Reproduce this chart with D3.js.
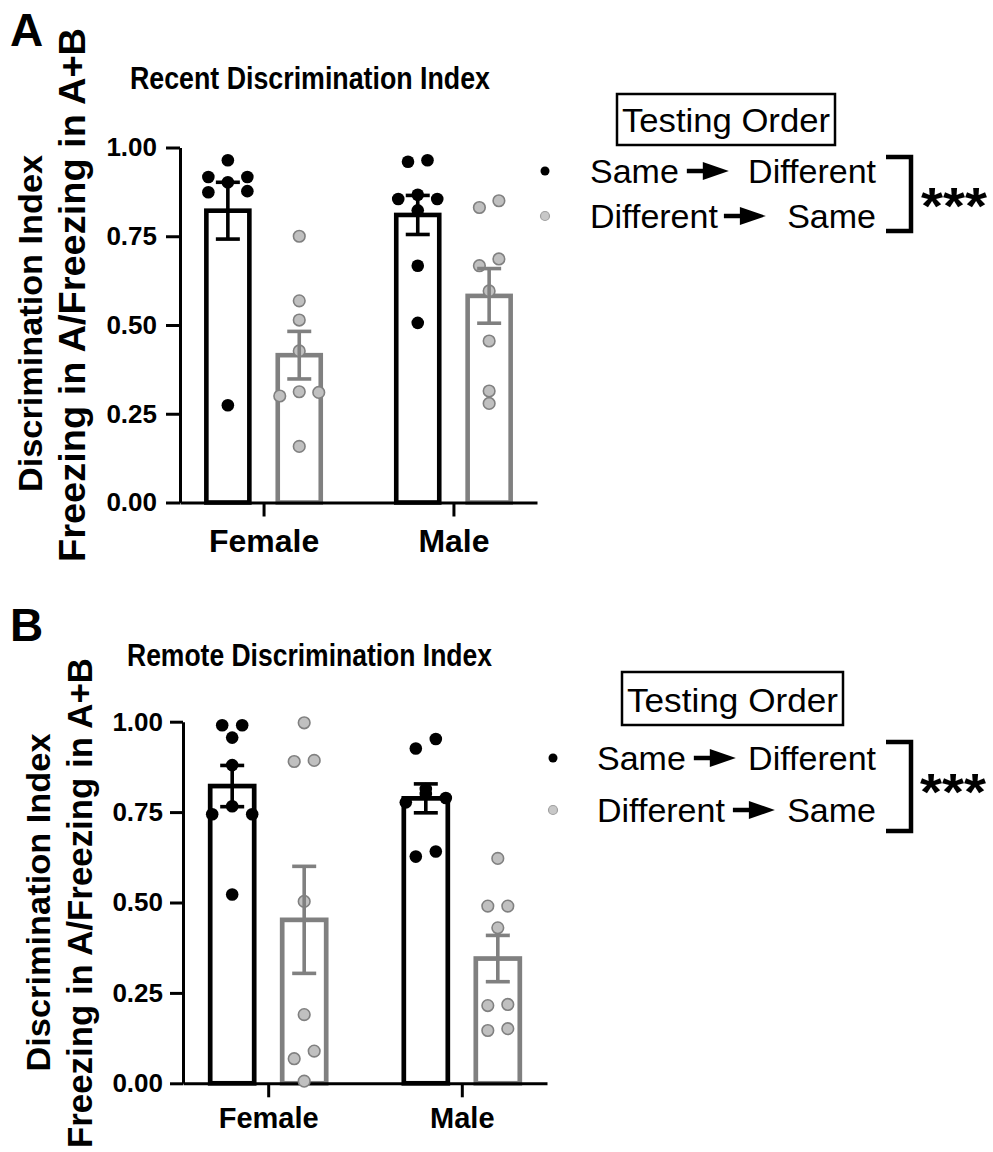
<!DOCTYPE html>
<html>
<head>
<meta charset="utf-8">
<script src="https://cdn.jsdelivr.net/npm/d3@7"></script>
<style>
  html, body { margin: 0; padding: 0; background: #fff; }
  svg text { font-family: "Liberation Sans", Arial, sans-serif; }
</style>
</head>
<body>
<svg id="chart" width="993" height="1152"></svg>
<script>
// ---------------- DATA ----------------
const categories = ["Female", "Male"];
const seriesKeys = ["sameDiff", "diffSame"];
const legendFirst = ["Same", "Different"];
const legendLast = ["Different", "Same"];
const yTicks = [0, 0.25, 0.5, 0.75, 1.0];
const yTitleLine1 = "Discrimination Index";
const yTitleLine2 = "Freezing in A/Freezing in A+B";
const legendTitle = "Testing Order";
const significance = "***";

// Panel A – Recent
const recentTitle = "Recent Discrimination Index";
const recentMeanSameDiff = [0.822, 0.810];
const recentSemSameDiff  = [0.080, 0.055];
const recentMeanDiffSame = [0.415, 0.582];
const recentSemDiffSame  = [0.067, 0.077];
const recentFemaleSameDiff = [0.964, 0.917, 0.917, 0.902, 0.874, 0.877, 0.274];
const recentFemaleSameDiffSlot = [0, -1, 1, 0, -1, 1, 0];
const recentFemaleDiffSame = [0.750, 0.568, 0.514, 0.427, 0.300, 0.312, 0.310, 0.158];
const recentFemaleDiffSameSlot = [0, 0, 0, 0, -1, 0, 1, 0];
const recentMaleSameDiff = [0.960, 0.964, 0.855, 0.867, 0.855, 0.823, 0.667, 0.506];
const recentMaleSameDiffSlot = [-0.5, 0.5, -1, 0, 1, 0, 0, 0];
const recentMaleDiffSame = [0.831, 0.850, 0.667, 0.686, 0.596, 0.455, 0.314, 0.279];
const recentMaleDiffSameSlot = [-0.5, 0.5, -0.5, 0.5, 0, 0, 0, 0];

// Panel B – Remote
const remoteTitle = "Remote Discrimination Index";
const remoteMeanSameDiff = [0.822, 0.788];
const remoteSemSameDiff  = [0.057, 0.040];
const remoteMeanDiffSame = [0.452, 0.345];
const remoteSemDiffSame  = [0.148, 0.064];
const remoteFemaleSameDiff = [0.990, 0.990, 0.956, 0.880, 0.766, 0.744, 0.744, 0.522];
const remoteFemaleSameDiffSlot = [-0.5, 0.5, 0, 0, 0, -1, 1, 0];
const remoteFemaleDiffSame = [0.997, 0.890, 0.893, 0.503, 0.190, 0.068, 0.089, 0.006];
const remoteFemaleDiffSameSlot = [0, -0.5, 0.5, 0, 0, -0.5, 0.5, 0];
const remoteMaleSameDiff = [0.926, 0.952, 0.777, 0.789, 0.814, 0.800, 0.627, 0.641];
const remoteMaleSameDiffSlot = [-0.5, 0.5, -1, 1, 0, 0, -0.5, 0.5];
const remoteMaleDiffSame = [0.622, 0.490, 0.490, 0.430, 0.218, 0.215, 0.146, 0.151];
const remoteMaleDiffSameSlot = [0, -0.5, 0.5, 0, 0.5, -0.5, -0.5, 0.5];

// ---------------- STYLE ----------------
const strokeCol = { sameDiff: "#000000", diffSame: "#808080" };
const dotFill   = { sameDiff: "#000000", diffSame: "#c0c0c0" };
const FONT = "'Liberation Sans', Arial, sans-serif";

const svg = d3.select("#chart");

function buildTable(meansSD, semSD, meansDS, semDS, pts) {
  const rows = [];
  categories.forEach((c, i) => {
    rows.push({ cat: c, key: "sameDiff", mean: meansSD[i], sem: semSD[i], pts: pts[c].sameDiff });
    rows.push({ cat: c, key: "diffSame", mean: meansDS[i], sem: semDS[i], pts: pts[c].diffSame });
  });
  return rows;
}

function drawPanel(cfg) {
  const g = svg.append("g");
  const y = d3.scaleLinear().domain([0, 1]).range([cfg.y0, cfg.y1]);
  const x = d3.scalePoint().domain(categories).range([cfg.x0, cfg.x1]).padding(0.44);
  const inner = d3.scaleBand().domain(seriesKeys).range([-cfg.off * 2, cfg.off * 2]);
  const cx = d => x(d.cat) + inner(d.key) + inner.bandwidth() / 2;

  // panel letter
  g.append("text").attr("x", 10).attr("y", cfg.letterY)
    .attr("font-size", 46).attr("font-weight", "bold").text(cfg.letter);
  // title
  g.append("text").attr("x", cfg.titleX).attr("y", cfg.titleY)
    .attr("font-size", 32).attr("font-weight", "bold")
    .attr("textLength", cfg.titleLen).attr("lengthAdjust", "spacingAndGlyphs")
    .text(cfg.title);

  // y titles
  g.append("text").attr("transform", `translate(${cfg.yt1x},${cfg.yt1c}) rotate(-90)`)
    .attr("text-anchor", "middle").attr("font-size", 34).attr("font-weight", "bold")
    .attr("textLength", cfg.yt1len).attr("lengthAdjust", "spacingAndGlyphs")
    .text(yTitleLine1);
  g.append("text").attr("transform", `translate(${cfg.yt2x},${cfg.yt2c}) rotate(-90)`)
    .attr("text-anchor", "middle").attr("font-size", cfg.yt2fs).attr("font-weight", "bold")
    .attr("textLength", cfg.yt2len).attr("lengthAdjust", "spacingAndGlyphs")
    .text(yTitleLine2);

  const rows = cfg.rows;
  // bars
  g.selectAll("rect.bar").data(rows).join("rect").attr("class", "bar")
    .attr("x", d => cx(d) - cfg.barW / 2).attr("width", cfg.barW)
    .attr("y", d => y(d.mean)).attr("height", d => y(0) - y(d.mean))
    .attr("fill", "#fff").attr("stroke", d => strokeCol[d.key]).attr("stroke-width", cfg.barStroke);

  // axes
  const yAxis = d3.axisLeft(y).tickValues(yTicks).tickFormat(d3.format(".2f"))
    .tickSize(cfg.tick).tickSizeOuter(0).tickPadding(cfg.yPad);
  const ya = g.append("g").attr("transform", `translate(${cfg.x0},0)`).call(yAxis);
  const xAxis = d3.axisBottom(x).tickSize(14).tickSizeOuter(0).tickPadding(cfg.xPad);
  const xa = g.append("g").attr("transform", `translate(0,${cfg.y0})`).call(xAxis);
  [ya, xa].forEach(a => {
    a.select(".domain").attr("stroke", "#000").attr("stroke-width", 3);
    a.selectAll(".tick line").attr("stroke", "#000").attr("stroke-width", 3);
    a.selectAll("text").attr("fill", "#000").attr("font-family", FONT).attr("font-weight", "bold");
  });
  ya.selectAll("text").attr("font-size", 26);
  xa.selectAll("text").attr("font-size", cfg.xfs);

  // points
  rows.forEach(d => {
    g.selectAll(null).data(d.pts).join("circle")
      .attr("cx", p => cx(d) + p.slot * cfg.slotUnit)
      .attr("cy", p => y(p.v))
      .attr("r", d.key === "sameDiff" ? 6.3 : 5.8)
      .attr("fill", dotFill[d.key])
      .attr("stroke", d.key === "sameDiff" ? "none" : "#808080")
      .attr("stroke-width", 1.6);
  });

  // error bars
  rows.forEach(d => {
    const c = cx(d);
    const eg = g.append("g").attr("stroke", strokeCol[d.key]).attr("stroke-width", 3.6);
    eg.append("line").attr("x1", c).attr("x2", c).attr("y1", y(d.mean + d.sem)).attr("y2", y(d.mean - d.sem));
    eg.append("line").attr("x1", c - 12).attr("x2", c + 12).attr("y1", y(d.mean + d.sem)).attr("y2", y(d.mean + d.sem));
    eg.append("line").attr("x1", c - 12).attr("x2", c + 12).attr("y1", y(d.mean - d.sem)).attr("y2", y(d.mean - d.sem));
  });

  // legend
  const L = cfg.legend;
  g.append("rect").attr("x", L.boxX).attr("y", L.boxY).attr("width", L.boxW).attr("height", L.boxH)
    .attr("fill", "none").attr("stroke", "#000").attr("stroke-width", 2.5);
  g.append("text").attr("x", L.boxX + L.boxW / 2).attr("y", L.boxY + L.boxH - 13)
    .attr("text-anchor", "middle").attr("font-size", 34)
    .attr("textLength", L.boxW - 10).attr("lengthAdjust", "spacingAndGlyphs").text(legendTitle);
  seriesKeys.forEach((k, i) => {
    const by = L.rowY[i];
    g.append("circle").attr("cx", L.dotX).attr("cy", by - 12).attr("r", 4.5)
      .attr("fill", k === "sameDiff" ? "#000" : "#c8c8c8")
      .attr("stroke", k === "sameDiff" ? "none" : "#a0a0a0").attr("stroke-width", 1.2);
    const t1 = g.append("text").attr("x", L.textX).attr("y", by).attr("font-size", 34).text(legendFirst[i]);
    const w = t1.node().getComputedTextLength();
    const ax = L.textX + w + L.arrowGap[i];
    const ay = by - 12;
    g.append("line").attr("x1", ax).attr("x2", ax + 22).attr("y1", ay).attr("y2", ay)
      .attr("stroke", "#000").attr("stroke-width", 4.5);
    g.append("path").attr("d", `M${ax + 16},${ay - 9} L${ax + 42},${ay} L${ax + 16},${ay + 9} Z`).attr("fill", "#000");
    g.append("text").attr("x", L.textEnd).attr("y", by).attr("text-anchor", "end")
      .attr("font-size", 34).text(legendLast[i]);
  });
  // bracket
  g.append("path")
    .attr("d", `M${L.brX0},${L.brY0} H${L.brX1} V${L.brY1} H${L.brX0}`)
    .attr("fill", "none").attr("stroke", "#000").attr("stroke-width", 4.5);
  g.append("text").attr("x", L.starX).attr("y", L.starY).attr("font-size", 52).attr("font-weight", "bold")
    .attr("textLength", 66).attr("lengthAdjust", "spacingAndGlyphs").text(significance);
}

function mkPts(vals, slots) { return vals.map((v, i) => ({ v: v, slot: slots[i] })); }

const rowsA = buildTable(recentMeanSameDiff, recentSemSameDiff, recentMeanDiffSame, recentSemDiffSame, {
  Female: { sameDiff: mkPts(recentFemaleSameDiff, recentFemaleSameDiffSlot), diffSame: mkPts(recentFemaleDiffSame, recentFemaleDiffSameSlot) },
  Male:   { sameDiff: mkPts(recentMaleSameDiff, recentMaleSameDiffSlot),     diffSame: mkPts(recentMaleDiffSame, recentMaleDiffSameSlot) }
});
const rowsB = buildTable(remoteMeanSameDiff, remoteSemSameDiff, remoteMeanDiffSame, remoteSemDiffSame, {
  Female: { sameDiff: mkPts(remoteFemaleSameDiff, remoteFemaleSameDiffSlot), diffSame: mkPts(remoteFemaleDiffSame, remoteFemaleDiffSameSlot) },
  Male:   { sameDiff: mkPts(remoteMaleSameDiff, remoteMaleSameDiffSlot),     diffSame: mkPts(remoteMaleDiffSame, remoteMaleDiffSameSlot) }
});

drawPanel({
  letter: "A", letterY: 46, title: recentTitle, titleX: 130, titleY: 89, titleLen: 360,
  rows: rowsA, x0: 180, x1: 537, y0: 502.5, y1: 147.5, off: 35.7, barW: 43, barStroke: 4.6,
  tick: 14, yPad: 9, xPad: 13, xfs: 32, slotUnit: 19.5,
  yt1x: 41.7, yt1c: 323.5, yt1len: 337, yt2x: 85, yt2c: 295, yt2len: 534, yt2fs: 37.5,
  legend: { boxX: 617, boxY: 94, boxW: 218, boxH: 51, dotX: 545, rowY: [183, 228], textX: 590, textEnd: 876,
            arrowGap: [8, 6], brX0: 886, brX1: 911, brY0: 157, brY1: 231, starX: 921, starY: 224 }
});
drawPanel({
  letter: "B", letterY: 641, title: remoteTitle, titleX: 127, titleY: 666, titleLen: 365,
  rows: rowsB, x0: 183, x1: 547, y0: 1083.3, y1: 721.7, off: 36, barW: 44, barStroke: 4.7,
  tick: 13, yPad: 7, xPad: 10, xfs: 29, slotUnit: 20,
  yt1x: 50, yt1c: 902.5, yt1len: 338, yt2x: 91.7, yt2c: 903, yt2len: 490, yt2fs: 35,
  legend: { boxX: 622, boxY: 672, boxW: 221, boxH: 53, dotX: 553, rowY: [770, 822], textX: 597, textEnd: 876,
            arrowGap: [8, 8], brX0: 886, brX1: 911, brY0: 742, brY1: 831, starX: 920, starY: 810 }
});
</script>
</body>
</html>
